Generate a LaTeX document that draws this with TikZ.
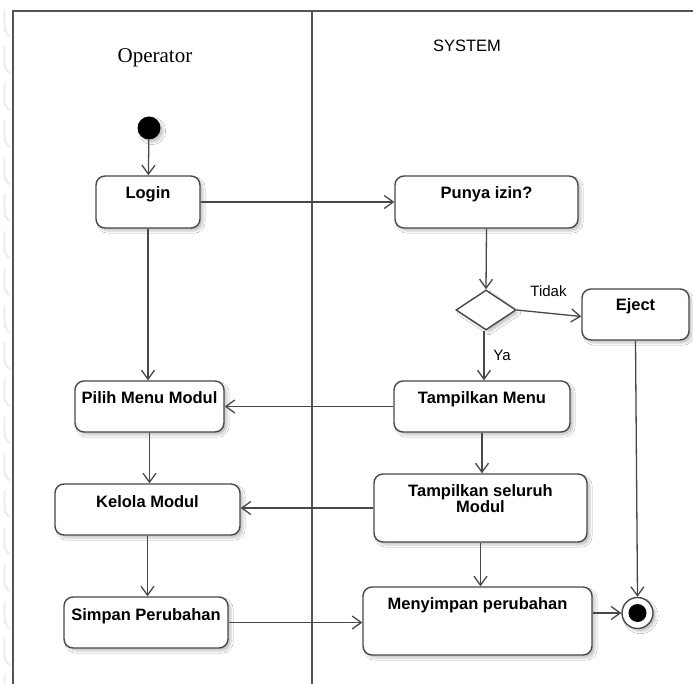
\documentclass[tikz,border=0pt]{standalone}
\usepackage{fontspec}
\setmainfont{Liberation Sans}
\newfontfamily\serifop{Liberation Serif}
\usetikzlibrary{arrows.meta,shapes.geometric,shadows.blur}
\definecolor{linegray}{HTML}{484848}
\definecolor{framegray}{HTML}{555555}
\tikzset{
  actbox/.style={draw=linegray, line width=1.4pt, rounded corners=9pt, fill=white,
    inner sep=0pt,
    blur shadow={shadow xshift=3pt, shadow yshift=-3pt, shadow blur steps=6, shadow opacity=22}},
  acttext/.style={anchor=north, inner sep=0pt, align=center,
    font=\fontsize{16.5}{16}\selectfont\bfseries},
  flow/.style={draw=linegray, line width=1.3pt, -{Straight Barb[length=9pt,width=13pt,line width=1.3pt]}},
  lane/.style={draw=framegray, line width=1.7pt},
  guard/.style={anchor=base, inner sep=0pt, font=\fontsize{15}{15}\selectfont},
  edgemark/.style={draw=black!7, line width=2pt, line cap=round},
}
\begin{document}
\begin{tikzpicture}[x=1pt,y=-1pt]
\useasboundingbox (0,0) rectangle (693,684);
\fill[white] (0,0) rectangle (693,684);

% faint marks along the left margin
\foreach \k in {0,...,18} {
  \draw[edgemark] (4.5,10+37*\k) -- (4.5,30+37*\k) to[out=90,in=180] (10,36+37*\k);
}

% swimlane frame
\coordinate (tl) at (13,11);
\coordinate (tr) at (693,11);
\coordinate (bl) at (13,684);
\coordinate (mt) at (312,11);
\coordinate (mb) at (312,684);
\draw[lane] (bl) -- (tl) -- (tr);
\draw[lane] (mt) -- (mb);

% lane headings
\node[anchor=base, inner sep=0pt, font=\serifop\fontsize{21}{21}\selectfont] (op) at (155,63) {Operator};
\node[anchor=base, inner sep=0pt, font=\fontsize{16.5}{16.5}\selectfont] (sys) at (467,52) {SYSTEM};

% start / end states
\node[circle, fill=black, minimum size=23pt, inner sep=0pt,
  blur shadow={shadow xshift=3pt, shadow yshift=-3pt, shadow blur steps=6, shadow opacity=22}] (start) at (149,128) {};
\node[circle, draw=linegray, line width=1.4pt, fill=white, minimum size=31pt, inner sep=0pt,
  blur shadow={shadow xshift=3pt, shadow yshift=-3pt, shadow blur steps=6, shadow opacity=22}] (end) at (637.5,613) {};
\node[circle, fill=black, minimum size=18pt, inner sep=0pt] (endc) at (end.center) {};

% activities: operator lane
\node[actbox, minimum width=104pt, minimum height=52pt] (login) at (148,202) {};
\node[acttext] (login-t) at ([yshift=-11pt]login.north) {Login};
\node[actbox, minimum width=149pt, minimum height=51pt] (pilih) at (149.5,406.5) {};
\node[acttext] (pilih-t) at ([yshift=-11pt]pilih.north) {Pilih Menu Modul};
\node[actbox, minimum width=185pt, minimum height=51pt] (kelola) at (147.5,509.5) {};
\node[acttext] (kelola-t) at ([yshift=-12pt]kelola.north) {Kelola Modul};
\node[actbox, minimum width=164pt, minimum height=51pt] (simpan) at (146,622.5) {};
\node[acttext] (simpan-t) at ([yshift=-12pt]simpan.north) {Simpan Perubahan};

% activities: system lane
\node[actbox, minimum width=183pt, minimum height=52pt] (punya) at (486.5,202) {};
\node[acttext] (punya-t) at ([yshift=-11pt]punya.north) {Punya izin?};
\node[diamond, draw=linegray, line width=1.4pt, fill=white, minimum width=60pt, minimum height=40pt, inner sep=0pt,
  blur shadow={shadow xshift=3pt, shadow yshift=-3pt, shadow blur steps=6, shadow opacity=22}] (dec) at (486,310) {};
\node[actbox, minimum width=107pt, minimum height=51pt] (eject) at (635.5,314.5) {};
\node[acttext] (eject-t) at ([yshift=-10pt]eject.north) {Eject};
\node[actbox, minimum width=176pt, minimum height=51pt] (tmenu) at (482,406.5) {};
\node[acttext] (tmenu-t) at ([yshift=-11pt]tmenu.north) {Tampilkan Menu};
\node[actbox, minimum width=213pt, minimum height=68pt] (tsel) at (480.5,508) {};
\node[acttext] (tsel-t) at ([yshift=-11pt]tsel.north) {Tampilkan seluruh\\Modul};
\node[actbox, minimum width=229pt, minimum height=68pt] (menyimpan) at (477.5,621) {};
\node[acttext] (menyimpan-t) at ([yshift=-11pt]menyimpan.north) {Menyimpan perubahan};

% guards
\node[guard] (tidak) at (548.5,297) {Tidak};
\node[guard] (ya) at (502,360) {Ya};

% control flow
\draw[flow] (start) -- (login);
\draw[flow] (login.east) -- (punya.west);
\draw[flow] (login.south) -- (login.south |- pilih.north);
\draw[flow] (punya.south) -- (dec.north);
\draw[flow] (dec.east) -- ([yshift=-2pt]eject.west);
\draw[flow] ([xshift=-2pt]dec.south) -- ([xshift=-2pt]dec.south |- tmenu.north);
\draw[flow] (tmenu.west) -- (tmenu.west -| pilih.east);
\draw[flow] (tmenu.south) -- (tmenu.south |- tsel.north);
\draw[flow] (pilih.south) -- (pilih.south |- kelola.north);
\draw[flow] (tsel.west) -- (tsel.west -| kelola.east);
\draw[flow] (kelola.south) -- (kelola.south |- simpan.north);
\draw[flow] (tsel.south) -- (tsel.south |- menyimpan.north);
\draw[flow] (simpan.east) -- (simpan.east -| menyimpan.west);
\draw[flow] ([yshift=8pt]menyimpan.east) -- (end.west);
\draw[flow] (eject.south) -- (end.north);
\end{tikzpicture}
\end{document}
